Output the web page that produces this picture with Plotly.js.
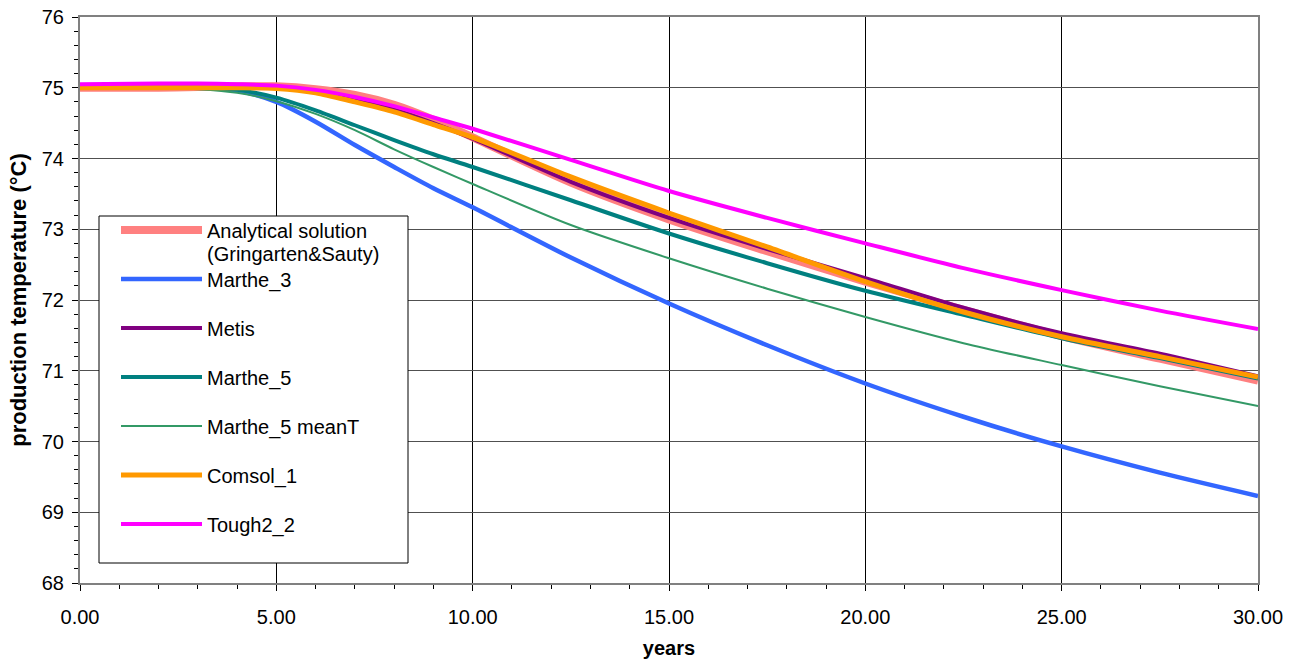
<!DOCTYPE html>
<html>
<head>
<meta charset="utf-8">
<script src="https://cdn.plot.ly/plotly-3.0.1.min.js"></script>
<style>
html,body{margin:0;padding:0;background:#fff;}
#chart{width:1306px;height:667px;}
</style>
</head>
<body>
<div id="chart"></div>
<script>
// time (years)
const years = [0, 2, 3, 4, 5, 6, 7, 8, 9, 10, 12.5, 15, 17.5, 20, 22.5, 25, 27.5, 30];

// production temperature (°C) per model
const analytical = [75.00, 75.00, 75.01, 75.02, 75.02, 74.98, 74.90, 74.76, 74.55, 74.30, 73.66, 73.14, 72.69, 72.26, 71.86, 71.49, 71.17, 70.86];
const marthe3    = [75.00, 75.00, 75.00, 74.96, 74.80, 74.52, 74.19, 73.88, 73.58, 73.31, 72.60, 71.95, 71.36, 70.82, 70.35, 69.93, 69.56, 69.23];
const metis      = [75.00, 75.00, 75.00, 75.00, 75.00, 74.94, 74.83, 74.69, 74.50, 74.28, 73.67, 73.16, 72.72, 72.31, 71.89, 71.53, 71.24, 70.92];
const marthe5    = [75.00, 75.00, 75.00, 74.97, 74.86, 74.68, 74.47, 74.26, 74.06, 73.88, 73.41, 72.94, 72.52, 72.13, 71.79, 71.46, 71.18, 70.89];
const marthe5T   = [75.00, 75.00, 74.98, 74.93, 74.81, 74.63, 74.40, 74.13, 73.88, 73.64, 73.06, 72.59, 72.16, 71.76, 71.39, 71.08, 70.78, 70.50];
const comsol1    = [75.00, 75.00, 75.00, 75.00, 74.99, 74.93, 74.80, 74.66, 74.48, 74.30, 73.74, 73.23, 72.75, 72.26, 71.83, 71.48, 71.20, 70.91];
const tough2     = [75.05, 75.06, 75.06, 75.05, 75.03, 74.97, 74.87, 74.74, 74.58, 74.42, 73.98, 73.54, 73.16, 72.80, 72.45, 72.14, 71.85, 71.59];

const seriesNames = ["Analytical solution", "Marthe_3", "Metis", "Marthe_5", "Marthe_5 meanT", "Comsol_1", "Tough2_2"];
const seriesData  = [analytical, marthe3, metis, marthe5, marthe5T, comsol1, tough2];
const seriesColor = ["#FF8080", "#3366FF", "#800080", "#008080", "#339966", "#FF9900", "#FF00FF"];
const seriesWidth = [8, 4.5, 4, 4, 2, 5, 4];
const subNote = "(Gringarten&Sauty)";

const FONT = "Liberation Sans, Arial, sans-serif";

const traces = seriesNames.map((n, i) => ({
  x: years,
  y: seriesData[i],
  type: "scatter",
  mode: "lines",
  name: n,
  legendgroup: "g" + i,
  line: {color: seriesColor[i], width: seriesWidth[i], shape: "spline", smoothing: 0.8},
  hoverinfo: "x+y+name"
}));

// plot area: x 80..1258, y 17..583
const L = 80, R = 1258, T = 17, B = 583;
const W = 1306, H = 667;
const px2paperX = p => (p - L) / (R - L);
const px2paperY = p => (B - p) / (B - T);

const layout = {
  width: W, height: H,
  margin: {l: L, r: W - R, t: T, b: H - B, pad: 0},
  paper_bgcolor: "#fff",
  plot_bgcolor: "#fff",
  font: {family: FONT, size: 20, color: "#000"},
  showlegend: true,
  xaxis: {
    range: [0, 30], dtick: 5, tick0: 0, tickformat: ".2f",
    showgrid: true, gridcolor: "#000", gridwidth: 1,
    showline: true, linecolor: "#808080", linewidth: 2, mirror: true,
    ticks: "outside", ticklen: 6, tickcolor: "#000", tickwidth: 1,
    ticklabelstandoff: 9,
    minor: {dtick: 1, ticks: "outside", ticklen: 4, tickcolor: "#000", showgrid: false},
    zeroline: false, automargin: false,
    tickfont: {family: FONT, size: 20, color: "#000"},
    title: {text: "years", font: {family: FONT, size: 20, color: "#000", weight: "bold"}, standoff: 14}
  },
  yaxis: {
    range: [68, 76], dtick: 1, tick0: 68,
    showgrid: true, gridcolor: "#505050", gridwidth: 1,
    showline: true, linecolor: "#808080", linewidth: 2, mirror: true,
    ticks: "outside", ticklen: 6, tickcolor: "#000", tickwidth: 1,
    ticklabelstandoff: 4,
    minor: {dtick: 0.2, ticks: "outside", ticklen: 4, tickcolor: "#000", showgrid: false},
    zeroline: false, automargin: false,
    tickfont: {family: FONT, size: 20, color: "#000"},
    title: {text: "production temperature (°C)", font: {family: FONT, size: 22, color: "#000", weight: "bold"}, standoff: 9}
  },
  legend: {
    xref: "paper", yref: "paper",
    x: px2paperX(116), y: px2paperY(210.5), xanchor: "left", yanchor: "top",
    bgcolor: "rgba(0,0,0,0)", borderwidth: 0,
    font: {family: FONT, size: 20, color: "#000"},
    tracegroupgap: 20, itemwidth: 81, valign: "middle",
    itemclick: false, itemdoubleclick: false
  },
  shapes: [{
    type: "rect", xref: "paper", yref: "paper", layer: "above",
    x0: px2paperX(99), x1: px2paperX(408), y0: px2paperY(563), y1: px2paperY(216),
    line: {color: "#000", width: 1}, fillcolor: "#fff"
  }],
  annotations: [{
    xref: "paper", yref: "paper", x: px2paperX(205), y: px2paperY(254),
    xanchor: "left", yanchor: "middle", showarrow: false,
    text: subNote, font: {family: FONT, size: 20, color: "#000"}
  }]
};

Plotly.newPlot("chart", traces, layout, {displayModeBar: false});
</script>
</body>
</html>
